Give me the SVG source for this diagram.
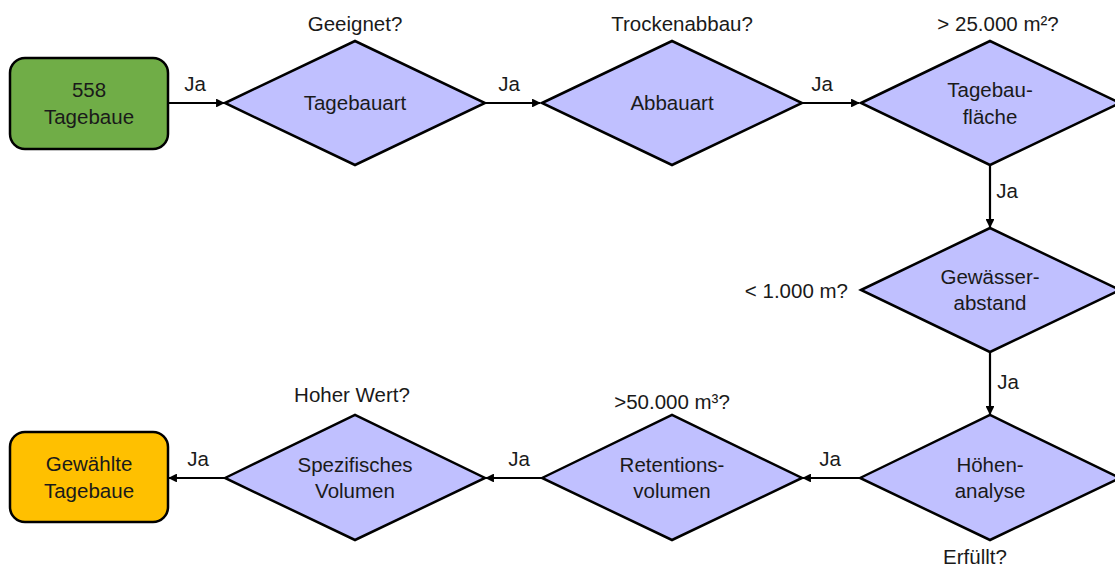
<svg xmlns="http://www.w3.org/2000/svg" width="1115" height="567" viewBox="0 0 1115 567">
<defs>
<style>
text{font-family:"Liberation Sans",Arial,sans-serif;font-size:20.5px;fill:#1a1a1a;}
.c{text-anchor:middle;}
.d{fill:#C0C0FF;stroke:#000;stroke-width:2.5;stroke-linejoin:miter;}
.b{stroke:#000;stroke-width:2.5;}
.e{stroke:#000;stroke-width:2.2;fill:none;marker-end:url(#ah);}
</style>
<marker id="ah" viewBox="0 0 10 10" refX="9" refY="5" markerWidth="4" markerHeight="4" orient="auto" markerUnits="strokeWidth">
<path d="M0,0 L10,5 L0,10 z" fill="#000"/>
</marker>
</defs>
<rect width="1115" height="567" fill="#fff"/>
<g id="connectors">
<line class="e" x1="168" y1="103" x2="224" y2="103"/>
<line class="e" x1="485" y1="103" x2="540" y2="103"/>
<line class="e" x1="802" y1="103" x2="859" y2="103"/>
<line class="e" x1="990" y1="165" x2="990" y2="227"/>
<line class="e" x1="990" y1="352" x2="990" y2="414"/>
<line class="e" x1="860" y1="478" x2="803" y2="478"/>
<line class="e" x1="542" y1="478" x2="486" y2="478"/>
<line class="e" x1="225" y1="478" x2="169" y2="478"/>
<text x="195" y="91" class="c">Ja</text>
<text x="509" y="91" class="c">Ja</text>
<text x="822" y="91" class="c">Ja</text>
<text x="1007" y="198" class="c">Ja</text>
<text x="1008" y="389" class="c">Ja</text>
<text x="830" y="466" class="c">Ja</text>
<text x="519" y="466" class="c">Ja</text>
<text x="198" y="466" class="c">Ja</text>
</g>
<g id="start">
<rect class="b" x="10" y="58" width="158" height="91" rx="15" fill="#70AD47"/>
<text x="89" y="97" class="c">558</text>
<text x="89" y="124" class="c">Tagebaue</text>
</g>
<g id="tagebauart">
<polygon class="d" points="225,103 355,41 485,103 355,165"/>
<text x="355" y="110" class="c">Tagebauart</text>
<text x="355" y="31" class="c">Geeignet?</text>
</g>
<g id="abbauart">
<polygon class="d" points="542,103 672,41 802,103 672,165"/>
<text x="672" y="110" class="c">Abbauart</text>
<text x="682" y="31" class="c">Trockenabbau?</text>
</g>
<g id="flaeche">
<polygon class="d" points="861,103 990,41 1120,103 990,165"/>
<text x="990" y="97" class="c">Tagebau-</text>
<text x="990" y="124" class="c">fläche</text>
<text x="998" y="31" class="c">&gt; 25.000 m²?</text>
</g>
<g id="gewaesser">
<polygon class="d" points="861,290 990,228 1120,290 990,352"/>
<text x="990" y="284" class="c">Gewässer-</text>
<text x="990" y="310" class="c">abstand</text>
<text x="848" y="298" text-anchor="end">&lt; 1.000 m?</text>
</g>
<g id="hoehen">
<polygon class="d" points="860,478 990,415 1120,478 990,540"/>
<text x="990" y="472" class="c">Höhen-</text>
<text x="990" y="498" class="c">analyse</text>
<text x="975" y="564" class="c">Erfüllt?</text>
</g>
<g id="retention">
<polygon class="d" points="542,478 672,415 802,478 672,540"/>
<text x="672" y="472" class="c">Retentions-</text>
<text x="672" y="498" class="c">volumen</text>
<text x="672" y="409" class="c">&gt;50.000 m³?</text>
</g>
<g id="spezifisch">
<polygon class="d" points="225,478 355,415 485,478 355,540"/>
<text x="355" y="472" class="c">Spezifisches</text>
<text x="355" y="498" class="c">Volumen</text>
<text x="352" y="402" class="c">Hoher Wert?</text>
</g>
<g id="ende">
<rect class="b" x="10" y="432" width="158" height="90" rx="15" fill="#FFC000"/>
<text x="89" y="471" class="c">Gewählte</text>
<text x="89" y="498" class="c">Tagebaue</text>
</g>
</svg>
